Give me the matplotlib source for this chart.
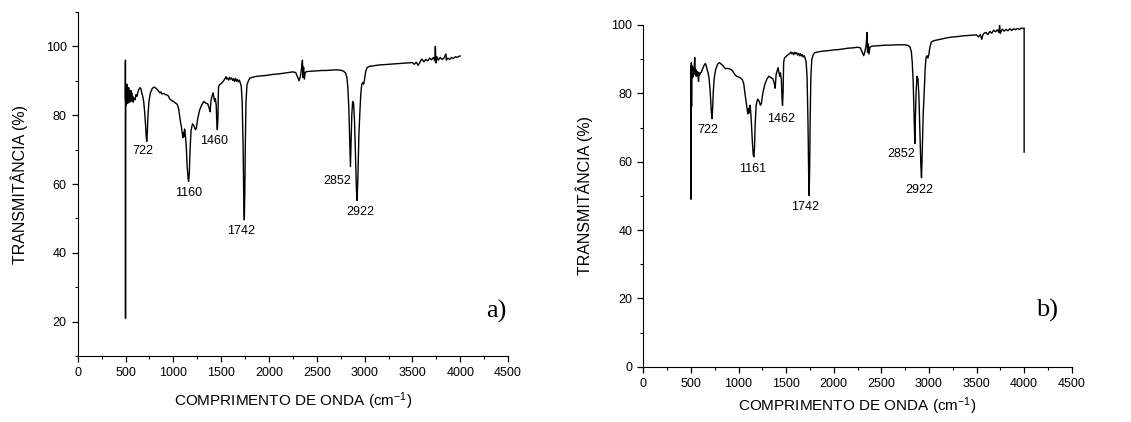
import matplotlib.pyplot as plt
from matplotlib.ticker import MultipleLocator

plt.rcParams['font.family'] = ['Liberation Sans', 'DejaVu Sans']
plt.rcParams['mathtext.default'] = 'regular'

# ---- spectrum a) : (wavenumber, transmittance)
wn_a = [498, 499, 500, 501, 503, 505, 507, 509, 511, 513, 515, 518, 521, 524, 527,
        530, 533, 536, 540, 544, 548, 552, 556, 560, 565, 570, 575, 580, 590, 600,
        610, 620, 630, 640, 650, 660, 670, 680, 690, 700, 710, 716, 722, 728, 735,
        745, 760, 780, 800, 820, 840, 860, 870, 880, 900, 920, 940, 950, 960, 980,
        1000, 1020, 1040, 1055, 1065, 1075, 1085, 1095, 1100, 1105, 1110, 1118, 1125, 1135, 1145,
        1155, 1160, 1167, 1175, 1185, 1200, 1215, 1230, 1240, 1255, 1275, 1300, 1320, 1340, 1360,
        1375, 1385, 1395, 1405, 1415, 1425, 1432, 1440, 1448, 1455, 1460, 1466, 1472, 1480, 1500,
        1520, 1540, 1550, 1560, 1570, 1580, 1590, 1600, 1610, 1620, 1630, 1640, 1650, 1660, 1670,
        1680, 1690, 1700, 1710, 1720, 1730, 1737, 1742, 1747, 1753, 1760, 1770, 1785, 1800, 1850,
        1900, 1950, 2000, 2050, 2100, 2150, 2200, 2250, 2280, 2300, 2315, 2330, 2340, 2350, 2355,
        2362, 2370, 2380, 2400, 2450, 2500, 2550, 2600, 2650, 2700, 2750, 2780, 2800, 2815, 2825,
        2835, 2845, 2852, 2858, 2866, 2875, 2885, 2895, 2905, 2915, 2922, 2930, 2940, 2950, 2960,
        2970, 2980, 2990, 3000, 3010, 3025, 3050, 3100, 3150, 3200, 3250, 3300, 3350, 3400, 3450,
        3500, 3520, 3540, 3560, 3575, 3590, 3600, 3620, 3640, 3660, 3680, 3700, 3720, 3735, 3740,
        3745, 3755, 3770, 3790, 3810, 3830, 3850, 3855, 3870, 3890, 3910, 3930, 3950, 3970, 3990,
        4000]
t_a = [84.5, 96.0, 21.0, 80.0, 89.0, 84.0, 88.0, 83.0, 87.0, 85.0, 89.0, 84.0, 87.5, 83.5, 86.5,
       84.0, 88.0, 84.5, 87.0, 83.8, 86.0, 84.2, 87.2, 84.5, 86.5, 84.0, 85.5, 83.8, 85.0, 84.5,
       86.0, 85.5, 86.8, 87.5, 88.0, 87.8, 86.5, 85.5, 84.0, 81.0, 77.0, 74.0, 72.4, 75.0, 80.0,
       84.0, 86.5, 87.8, 88.2, 87.8, 87.2, 86.5, 86.8, 86.2, 86.3, 86.0, 85.8, 85.5, 84.8, 84.3,
       84.0, 83.6, 83.2, 82.0, 80.0, 78.0, 76.5, 74.5, 73.5, 75.0, 73.8, 76.0, 74.5, 71.0, 65.0,
       61.5, 60.8, 63.0, 70.0, 75.5, 77.5, 77.0, 75.8, 76.2, 79.0, 81.5, 83.2, 84.0, 83.5, 83.3,
       82.0, 81.0, 84.5, 85.5, 86.5, 85.0, 84.0, 84.8, 83.0, 78.0, 75.8, 79.0, 88.0, 88.8, 89.2,
       89.8, 90.6, 91.2, 90.5, 90.8, 90.2, 91.0, 90.5, 90.8, 90.1, 90.6, 89.8, 90.7, 89.9, 90.4,
       89.7, 90.2, 89.4, 88.5, 84.0, 70.0, 55.0, 49.6, 57.0, 72.0, 84.0, 88.8, 90.0, 90.8, 91.2,
       91.4, 91.5, 91.7, 91.9, 92.0, 92.2, 92.4, 92.6, 92.4, 91.0, 90.0, 91.5, 93.5, 96.0, 91.0,
       94.0, 90.5, 92.5, 92.7, 92.8, 92.9, 93.0, 93.0, 93.1, 93.2, 93.1, 92.8, 92.3, 91.0, 88.0,
       82.0, 72.0, 65.1, 72.0, 80.0, 84.0, 83.5, 78.0, 68.0, 58.0, 55.2, 62.0, 74.0, 80.5, 86.0,
       89.0, 89.5, 89.0, 90.5, 92.5, 93.8, 94.2, 94.4, 94.6, 94.7, 94.8, 94.9, 95.0, 95.1, 95.2,
       95.3, 94.8, 95.4, 94.5, 95.2, 96.0, 96.3, 95.5, 96.2, 95.8, 96.6, 96.1, 96.8, 95.8, 100.0,
       95.2, 97.0, 96.0, 96.8, 96.2, 96.6, 97.8, 96.0, 96.6, 96.2, 96.8, 96.5, 97.0, 96.8, 97.2,
       97.2]

# ---- spectrum b)
wn_b = [497, 499, 500, 501, 503, 505, 507, 509, 511, 514, 517, 520, 523, 527, 531,
        535, 540, 545, 550, 555, 560, 565, 570, 575, 580, 585, 590, 600, 610, 620,
        630, 640, 650, 660, 670, 680, 690, 700, 710, 716, 722, 728, 735, 745, 760,
        780, 800, 820, 840, 860, 880, 900, 920, 940, 960, 980, 1000, 1020, 1040, 1055,
        1065, 1075, 1085, 1095, 1100, 1105, 1112, 1120, 1127, 1135, 1145, 1155, 1161, 1168, 1175,
        1185, 1200, 1215, 1230, 1240, 1255, 1275, 1300, 1320, 1340, 1360, 1375, 1385, 1395, 1405,
        1415, 1425, 1432, 1440, 1450, 1456, 1462, 1468, 1474, 1482, 1500, 1520, 1540, 1550, 1560,
        1570, 1580, 1590, 1600, 1610, 1620, 1630, 1640, 1650, 1660, 1670, 1680, 1690, 1700, 1710,
        1720, 1730, 1737, 1742, 1747, 1753, 1760, 1770, 1785, 1800, 1850, 1900, 1950, 2000, 2050,
        2100, 2150, 2200, 2250, 2280, 2300, 2315, 2330, 2340, 2350, 2355, 2362, 2370, 2380, 2400,
        2450, 2500, 2550, 2600, 2650, 2700, 2750, 2780, 2800, 2815, 2825, 2835, 2845, 2852, 2858,
        2866, 2875, 2885, 2895, 2905, 2915, 2922, 2930, 2940, 2950, 2960, 2970, 2980, 2990, 3000,
        3010, 3025, 3050, 3100, 3150, 3200, 3250, 3300, 3350, 3400, 3450, 3500, 3520, 3540, 3555,
        3565, 3580, 3600, 3620, 3640, 3660, 3680, 3700, 3720, 3735, 3742, 3750, 3770, 3790, 3810,
        3830, 3850, 3870, 3890, 3910, 3930, 3950, 3970, 3990, 4000, 4000]
t_b = [86.0, 87.5, 49.0, 88.0, 85.0, 89.0, 76.0, 86.0, 84.5, 88.0, 85.0, 87.0, 84.8, 87.5, 85.5,
       88.0, 90.5, 86.0, 87.0, 85.0, 86.5, 85.2, 86.3, 84.8, 83.5, 86.0, 85.3, 86.0, 86.2, 87.0,
       87.6, 88.3, 88.7, 88.2, 87.0, 86.0, 84.5, 81.5, 77.0, 74.0, 72.6, 75.5, 80.5, 84.5, 87.0,
       88.5, 89.0, 88.5, 88.0, 87.2, 87.3, 87.2, 87.0, 86.5, 85.5, 85.0, 84.8, 84.5, 84.0, 82.8,
       80.5, 78.5, 76.5, 74.5, 74.0, 75.5, 74.3, 76.5, 75.0, 71.5, 66.0, 62.0, 61.4, 64.0, 71.0,
       76.5, 78.3, 77.8, 76.5, 77.0, 80.0, 82.5, 84.3, 85.0, 84.6, 84.3, 83.0, 81.5, 85.5, 86.5,
       87.5, 86.0, 85.0, 86.0, 84.0, 79.0, 76.5, 80.0, 89.0, 90.3, 90.8, 91.3, 91.7, 92.1, 91.6,
       91.9, 91.3, 92.0, 91.6, 91.9, 91.2, 91.7, 91.0, 91.6, 90.9, 91.3, 90.6, 91.0, 90.3, 89.2,
       85.0, 71.0, 56.0, 50.1, 58.0, 73.0, 85.0, 90.0, 91.3, 91.9, 92.2, 92.4, 92.5, 92.7, 92.8,
       93.0, 93.2, 93.3, 93.5, 93.3, 92.0, 91.0, 92.5, 94.0, 97.8, 92.0, 94.5, 91.5, 93.5, 93.8,
       93.9, 94.0, 94.1, 94.1, 94.2, 94.2, 94.2, 94.0, 93.6, 92.3, 89.0, 83.0, 73.0, 65.3, 73.0,
       81.0, 85.0, 84.2, 79.0, 69.0, 59.0, 55.3, 63.0, 74.0, 80.0, 87.0, 90.5, 91.0, 90.3, 91.5,
       93.5, 95.0, 95.4, 95.7, 96.0, 96.3, 96.5, 96.6, 96.8, 96.9, 97.0, 97.1, 96.5, 97.2, 95.8,
       97.0, 97.6, 97.8, 97.2, 98.1, 97.6, 98.5, 98.0, 98.6, 97.8, 99.8, 97.5, 98.8, 98.2, 98.7,
       98.3, 98.9, 98.4, 98.9, 98.6, 99.0, 98.7, 99.1, 99.0, 99.1, 62.8]

labels_a = ['722', '1160', '1460', '1742', '2852', '2922']
lab_xa = [680, 1157, 1430, 1705, 2710, 2955]
lab_ya = [69.5, 57.4, 72.4, 46.5, 61.0, 51.9]

labels_b = ['722', '1161', '1462', '1742', '2852', '2922']
lab_xb = [683, 1149, 1443, 1699, 2704, 2899]
lab_yb = [69.2, 58.0, 72.6, 46.7, 62.2, 51.8]

fig = plt.figure(figsize=(11.31, 4.22), dpi=100)
ax_a = fig.add_axes([0.0687, 0.156, 0.3805, 0.8156])
ax_b = fig.add_axes([0.5688, 0.131, 0.3788, 0.8098])


def style_axis(ax, ymin, ymax, xpad):
    ax.set_xlim(0, 4500)
    ax.set_ylim(ymin, ymax)
    ax.xaxis.set_major_locator(MultipleLocator(500))
    ax.xaxis.set_minor_locator(MultipleLocator(250))
    ax.yaxis.set_major_locator(MultipleLocator(20))
    ax.yaxis.set_minor_locator(MultipleLocator(10))
    ax.spines['top'].set_visible(False)
    ax.spines['right'].set_visible(False)
    ax.tick_params(which='major', direction='out', length=4.5, width=0.9, labelsize=9)
    ax.tick_params(which='minor', direction='out', length=2.3, width=0.8)
    ax.set_xlabel('COMPRIMENTO DE ONDA (cm$^{-1}$)', fontsize=11, labelpad=xpad)
    ax.set_ylabel('TRANSMITÂNCIA (%)', fontsize=11.5, labelpad=13)


ax_a.plot(wn_a, t_a, color='black', lw=1.0)
style_axis(ax_a, 10, 110, 8)
for s, x, y in zip(labels_a, lab_xa, lab_ya):
    ax_a.text(x, y, s, ha='center', va='center', fontsize=9)
ax_a.text(4375, 23, 'a)', ha='center', va='center', fontsize=19, family='Liberation Serif')

ax_b.plot(wn_b, t_b, color='black', lw=1.0)
style_axis(ax_b, 0, 100, 4)
for s, x, y in zip(labels_b, lab_xb, lab_yb):
    ax_b.text(x, y, s, ha='center', va='center', fontsize=9)
ax_b.text(4237, 16.4, 'b)', ha='center', va='center', fontsize=19, family='Liberation Serif')

fig.savefig('out.png', dpi=100)
plt.close(fig)
